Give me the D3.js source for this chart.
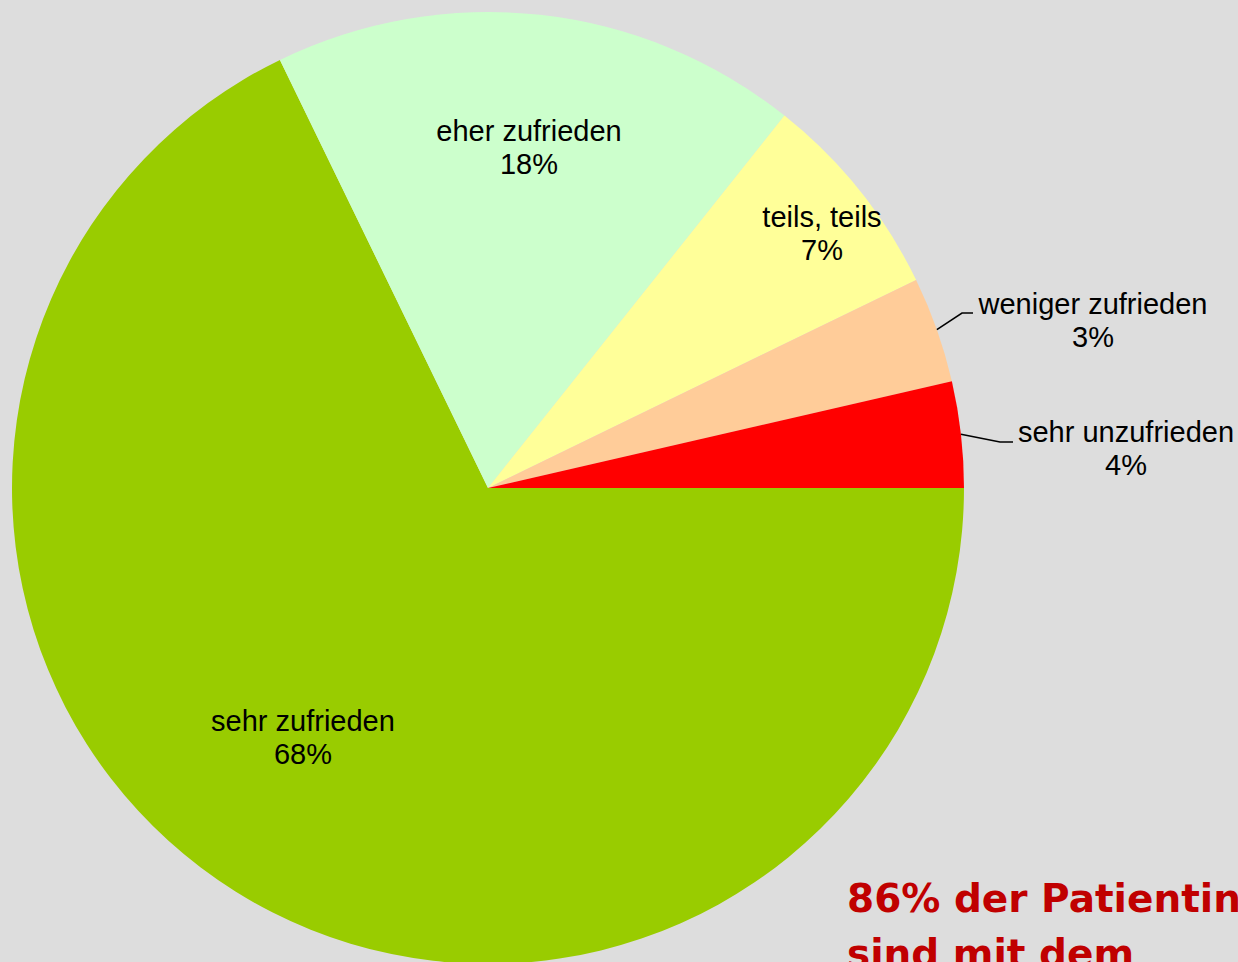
<!DOCTYPE html>
<html>
<head>
<meta charset="utf-8">
<script src="https://cdn.jsdelivr.net/npm/d3@7"></script>
<style>
  html, body { margin:0; padding:0; background:#dddddd; overflow:hidden; }
  svg { display:block; }
</style>
</head>
<body>
<div id="vis"></div>
<script>
/* Data */
const categories = ["sehr zufrieden", "eher zufrieden", "teils, teils", "weniger zufrieden", "sehr unzufrieden"];
const shares     = [67.8, 17.9, 7.1, 3.6, 3.6];
const pctLabels  = ["68%", "18%", "7%", "3%", "4%"];
const colours    = ["#99cc00", "#ccffcc", "#ffff99", "#ffcc99", "#ff0000"];

/* label layout (centre of two-line label, leader flag) */
const labelPos = [
  {x:303,  y:737, leader:false},
  {x:529,  y:147, leader:false},
  {x:822,  y:233, leader:false},
  {x:1093, y:320, leader:true, bendX:962,  bendY:313, endX:973},
  {x:1126, y:448, leader:true, bendX:1000, bendY:442, endX:1013}
];

// note runs off the bottom-right edge, as in the original slide
const noteLines = ["86% der Patientinnen", "sind mit dem"];

const W = 1238, H = 962;
const cx = 488, cy = 488, R = 476;

const svg = d3.select("#vis").append("svg")
    .attr("width", W).attr("height", H);

svg.append("rect").attr("width", W).attr("height", H).attr("fill", "#dddddd");

const g = svg.append("g").attr("transform", `translate(${cx},${cy})`);

// first slice starts at 3 o'clock, runs clockwise
const pie = d3.pie().sort(null).value(d => d)
    .startAngle(Math.PI/2).endAngle(Math.PI/2 + 2*Math.PI);
const arcs = pie(shares);
const arc = d3.arc().innerRadius(0).outerRadius(R);

g.selectAll("path.slice").data(arcs).join("path")
    .attr("class", "slice")
    .attr("d", arc)
    .attr("fill", (d, i) => colours[i]);

/* leader lines */
arcs.forEach((d, i) => {
  const lp = labelPos[i];
  if (!lp.leader) return;
  const mid = (d.startAngle + d.endAngle) / 2;
  const sx = cx + R * Math.sin(mid), sy = cy - R * Math.cos(mid);
  svg.append("polyline")
      .attr("points", `${sx},${sy} ${lp.bendX},${lp.bendY} ${lp.endX},${lp.bendY}`)
      .attr("fill", "none").attr("stroke", "#000").attr("stroke-width", 1.6);
});

/* slice labels */
const lab = svg.append("g")
    .attr("font-family", "Arial, 'Liberation Sans', sans-serif")
    .attr("font-size", 29).attr("fill", "#000").attr("text-anchor", "middle");

categories.forEach((c, i) => {
  const lp = labelPos[i];
  const t = lab.append("text").attr("x", lp.x).attr("y", lp.y);
  t.append("tspan").attr("x", lp.x).attr("dy", "-6").text(c);
  t.append("tspan").attr("x", lp.x).attr("dy", "33").text(pctLabels[i]);
});

/* red note */
const note = svg.append("text")
    .attr("x", 847).attr("y", 912)
    .attr("font-family", "'DejaVu Sans', Verdana, sans-serif")
    .attr("font-weight", "bold").attr("font-size", 39).attr("fill", "#c00000");
noteLines.forEach((l, i) => {
  note.append("tspan").attr("x", 847).attr("dy", i ? 55 : 0).text(l);
});
</script>
</body>
</html>
